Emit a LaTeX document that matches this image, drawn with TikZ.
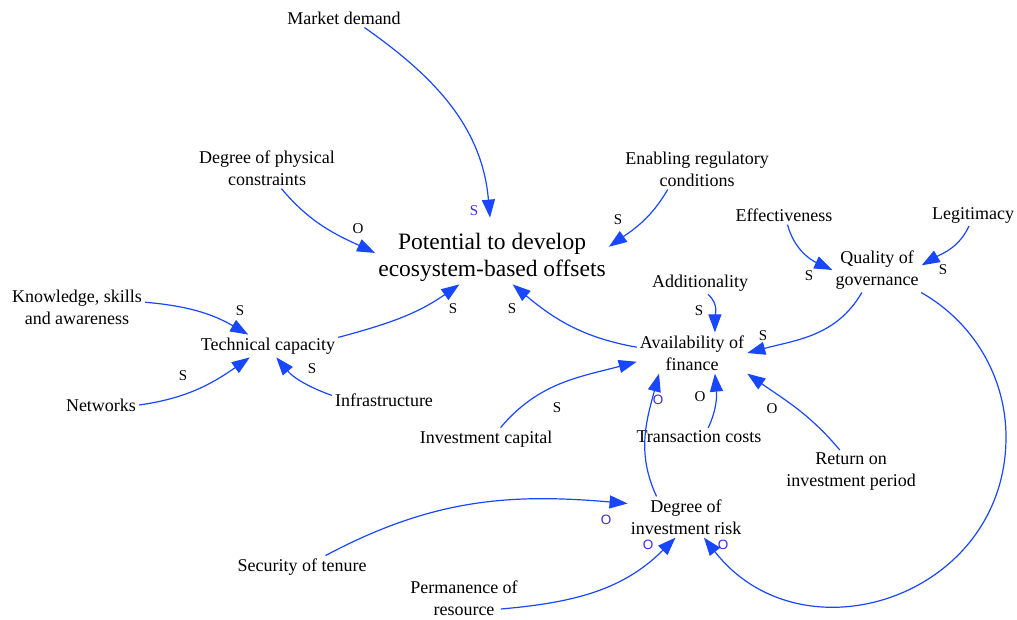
\documentclass[tikz,border=0pt]{standalone}
\usepackage{fontspec}
\setmainfont{Liberation Serif}
\newfontfamily\lsans{Liberation Sans}
\usetikzlibrary{arrows.meta}
\definecolor{arrblue}{RGB}{25,70,255}
\definecolor{lblblue}{RGB}{60,40,240}
\begin{document}
\begin{tikzpicture}[x=1pt,y=1pt,
  var/.style={font=\fontsize{18}{22}\selectfont, align=center, inner sep=3pt},
  mainvar/.style={font=\fontsize{23.5}{27}\selectfont, align=center, inner sep=3pt},
  arr/.style={draw=arrblue, line width=1.2pt, -{Triangle[length=18pt,width=13pt]}},
  pol/.style={font=\fontsize{15}{17}\selectfont, inner sep=0pt},
  bpols/.style={font=\fontsize{15}{17}\selectfont, text=lblblue, inner sep=0pt},
  bpolo/.style={font=\lsans\fontsize{13.5}{15}\selectfont, text=lblblue, inner sep=0pt}]
\useasboundingbox (0,0) rectangle (1017,-619);

% variables
\node[var] (md) at (344,-18) {Market demand};
\node[var] (dpc) at (267,-168) {Degree of physical\\constraints};
\node[var] (enab) at (697,-169) {Enabling regulatory\\conditions};
\node[mainvar] (pot) at (492,-257) {Potential to develop\\ecosystem-based offsets};
\node[var] (eff) at (784,-215) {Effectiveness};
\node[var] (leg) at (973,-215) {Legitimacy};
\node[var] (qog) at (877,-270) {Quality of\\governance};
\node[var] (ksa) at (77,-307) {Knowledge, skills\\and awareness};
\node[var] (tc) at (268,-346) {Technical capacity};
\node[var] (add) at (700,-283) {Additionality};
\node[var] (aof) at (692,-353) {Availability of\\finance};
\node[var] (net) at (101,-405) {Networks};
\node[var] (inf) at (384,-400) {Infrastructure};
\node[var] (ic) at (486,-439) {Investment capital};
\node[var] (tcst) at (699,-437) {Transaction costs};
\node[var] (roi) at (851,-472) {Return on\\investment period};
\node[var] (dir) at (686,-517) {Degree of\\investment risk};
\node[var] (sot) at (302,-567) {Security of tenure};
\node[var] (per) at (464,-598) {Permanence of\\resource};
\coordinate (qr) at (1006,-437);

% connectors
\draw[arr] (md.-25) to[out=-35,in=95] ([shift={(-2,12)}]pot.north);
\draw[arr] (dpc.-55) to[out=-50,in=155] (pot.178);
\draw[arr] (enab.-145) to[out=-120,in=35] (pot.5);
\draw[arr] (tc.7) to[out=15,in=-145] (pot.-140);
\draw[arr] (aof.174) to[out=170,in=-40] (pot.-53);
\draw[arr] (ksa.4) to[out=-5,in=150] (tc.150);
\draw[arr] (net.east) to[out=8,in=-145] (tc.-148);
\draw[arr] (inf.175) to[out=160,in=-50] (tc.-54);
\draw[arr] (eff.-70) to[out=-75,in=155] (qog.west);
\draw[arr] (leg.-110) to[out=-115,in=30] (qog.6);
\draw[arr] (qog.-124) to[out=-120,in=15] (aof.east);
\draw[arr] (add.-55) to[out=-40,in=90] (aof.42);
\draw[arr] (ic.38) to[out=50,in=-165] (aof.-171);
\draw[arr] (dir.145) to[out=115,in=-105] (aof.-148);
\draw[arr] (tcst.45) to[out=65,in=-85] (aof.-42);
\draw[arr] (roi.117) to[out=130,in=-35] (aof.south east);
\draw[arr] (sot.26) to[out=28,in=175] (dir.167);
\draw[arr] ([shift={(-20,-11)}]per.east) to[out=5,in=-135] (dir.-117);
\draw[arr] (qog.-27) to[out=-29.5,in=90,out distance=60pt,in distance=60pt] (qr)
  to[out=-90,in=-52,out distance=160pt,in distance=160pt] (dir.-49);

% polarity labels
\node[bpols] (l1) at (474,-211) {S};
\node[pol] (l2) at (358,-229) {O};
\node[pol] (l3) at (618,-220) {S};
\node[pol] (l4) at (453,-309) {S};
\node[pol] (l5) at (512,-309) {S};
\node[pol] (l6) at (240,-311) {S};
\node[pol] (l7) at (183,-376) {S};
\node[pol] (l8) at (312,-369) {S};
\node[pol] (l9) at (809,-276) {S};
\node[pol] (l10) at (943,-270) {S};
\node[pol] (l11) at (763,-336) {S};
\node[pol] (l12) at (699,-311) {S};
\node[pol] (l13) at (557,-408) {S};
\node[bpolo] (l14) at (658,-400) {O};
\node[pol] (l15) at (700,-397) {O};
\node[pol] (l16) at (772,-409) {O};
\node[bpolo] (l17) at (606,-520) {O};
\node[bpolo] (l18) at (648,-545) {O};
\node[bpolo] (l19) at (723,-545) {O};
\end{tikzpicture}
\end{document}
